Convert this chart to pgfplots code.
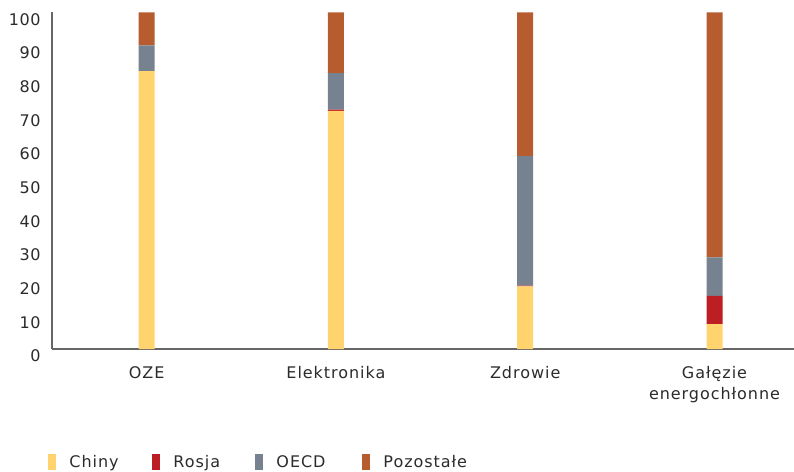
\documentclass[border=0pt]{standalone}
\usepackage{fontspec}
\setmainfont[LetterSpace=6]{DejaVu Sans}
\newfontfamily\numfont[LetterSpace=3]{DejaVu Sans}
\usepackage{pgfplots}
\pgfplotsset{compat=1.18}

\definecolor{chiny}{HTML}{FFD46E}
\definecolor{rosja}{HTML}{BD1E24}
\definecolor{oecd}{HTML}{778291}
\definecolor{pozostale}{HTML}{B65C2F}
\definecolor{axisgray}{HTML}{666666}
\definecolor{txt}{HTML}{2B2B2B}

\begin{document}
\begin{tikzpicture}[x=1pt,y=1pt]
\path[use as bounding box] (0,0) rectangle (794,471);
\begin{axis}[
  at={(52pt,122pt)}, anchor=south west,
  scale only axis, width=742pt, height=336.5pt,
  ybar stacked, bar width=16pt,
  xmin=-0.5, xmax=3.42, ymin=0, ymax=100,
  axis x line*=bottom, axis y line*=left,
  axis line style={axisgray, line width=1.3pt, -},
  xtick={0,1,2,3},
  xticklabels={OZE, Elektronika, Zdrowie, {Gałęzie\\energochłonne}},
  xticklabel style={align=center, font=\fontsize{16}{21}\selectfont, text=txt, yshift=-14pt},
  ytick={0,10,...,100},
  yticklabel style={font=\numfont\fontsize{16}{18}\selectfont, text=txt, yshift=-7pt, xshift=-8pt},
  /pgf/number format/assume math mode=true,
  major tick length=0pt,
  legend image code/.code={\fill[#1] (0pt,-8pt) rectangle (8pt,8pt);},
  legend style={at={(-0.005,-0.336)}, anchor=west, draw=none, fill=none,
    inner sep=0pt, font=\fontsize{16}{18}\selectfont, text=txt,
    /tikz/every odd column/.append style={column sep=11pt},
    /tikz/every even column/.append style={column sep=0pt}},
  legend columns=4, legend cell align=left,
]
\addplot[fill=chiny, draw=none] coordinates {(0,82.6) (1,70.8) (2,18.6) (3,7.4)};
\addplot[fill=rosja, draw=none] coordinates {(0,0) (1,0.3) (2,0.2) (3,8.4)};
\addplot[fill=oecd, draw=none] coordinates {(0,7.6) (1,10.9) (2,38.5) (3,11.4)};
\addplot[fill=pozostale, draw=none] coordinates {(0,9.8) (1,18.0) (2,42.7) (3,72.8)};
\legend{\makebox[81pt][l]{Chiny}, \makebox[80pt][l]{Rosja}, \makebox[84pt][l]{OECD}, Pozostałe}
\end{axis}
\end{tikzpicture}
\end{document}
